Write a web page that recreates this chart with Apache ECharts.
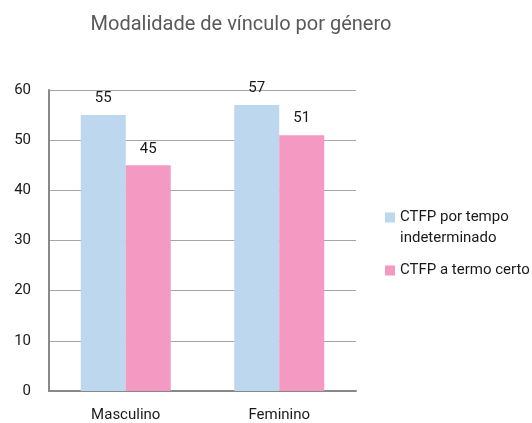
<!DOCTYPE html>
<html>
<head>
<meta charset="utf-8">
<script src="https://cdn.jsdelivr.net/npm/echarts@6/dist/echarts.min.js"></script>
<style>
  html, body { margin: 0; padding: 0; background: #fff; }
  #chart { width: 532px; height: 423px; }
</style>
</head>
<body>
<div id="chart"></div>
<script>
// dados
const categorias = ['Masculino', 'Feminino']
const indeterminado = [55, 57]
const termoCerto = [45, 51]
const nomesSeries = ['CTFP por tempo indeterminado', 'CTFP a termo certo']

const FONT = 'Roboto, "DejaVu Sans", sans-serif'

var myChart = echarts.init(document.getElementById('chart'), null, { renderer: 'canvas' })

var option = {
  animation: false,
  title: {
    text: 'Modalidade de vínculo por género',
    left: 236,
    textAlign: 'center',
    top: 10,
    textStyle: {
      color: '#595959',
      fontSize: 20,
      fontWeight: 'normal',
      fontFamily: FONT
    }
  },
  legend: {
    orient: 'vertical',
    left: 385,
    top: 186,
    padding: 0,
    itemWidth: 10,
    itemHeight: 10,
    itemGap: 11,
    icon: 'rect',
    data: nomesSeries,
    // linha vazia no topo para o ícone ficar alinhado com a primeira linha
    formatter: function (name) {
      return name === nomesSeries[0] ? '\nCTFP por tempo\nindeterminado' : name
    },
    textStyle: {
      color: '#1a1a1a',
      fontSize: 15,
      lineHeight: 21,
      fontFamily: FONT
    }
  },
  grid: {
    left: 49,
    right: 176,
    top: 90,
    bottom: 32
  },
  xAxis: {
    type: 'category',
    data: categorias,
    axisLine: { show: true, lineStyle: { color: '#888', width: 2 } },
    axisTick: { show: false },
    axisLabel: {
      color: '#1a1a1a',
      fontSize: 15,
      margin: 17,
      fontFamily: FONT
    }
  },
  yAxis: {
    type: 'value',
    min: 0,
    max: 60,
    interval: 10,
    axisLine: { show: true, lineStyle: { color: '#888', width: 2 } },
    axisTick: { show: false },
    splitLine: { show: true, lineStyle: { color: '#a6a6a6', width: 1 } },
    axisLabel: {
      color: '#1a1a1a',
      fontSize: 15,
      margin: 18,
      fontFamily: FONT
    }
  },
  series: [
    {
      name: nomesSeries[0],
      type: 'bar',
      data: indeterminado,
      barWidth: 45,
      barGap: '0%',
      itemStyle: { color: '#bdd7ee' },
      label: { show: true, position: 'top', distance: 9, color: '#1a1a1a', fontSize: 15, fontFamily: FONT }
    },
    {
      name: nomesSeries[1],
      type: 'bar',
      data: termoCerto,
      barWidth: 45,
      barGap: '0%',
      itemStyle: { color: '#f499c1' },
      label: { show: true, position: 'top', distance: 9, color: '#1a1a1a', fontSize: 15, fontFamily: FONT }
    }
  ]
}

myChart.setOption(option, true)
</script>
</body>
</html>
